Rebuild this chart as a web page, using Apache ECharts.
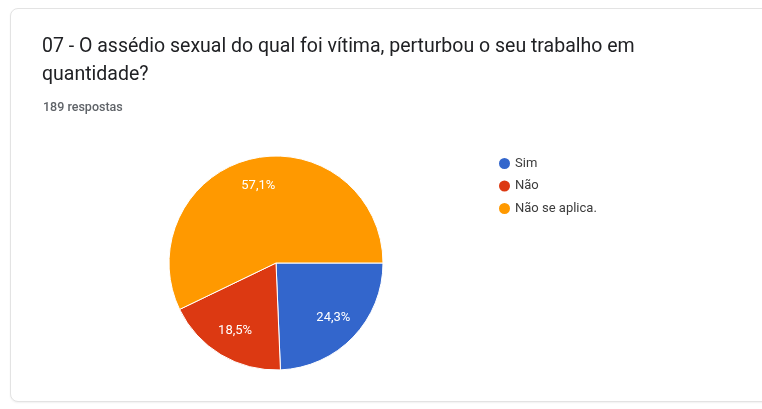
<!DOCTYPE html>
<html>
<head>
<meta charset="utf-8">
<script src="https://cdn.jsdelivr.net/npm/echarts@6/dist/echarts.min.js"></script>
<style>
  html, body { margin: 0; padding: 0; background: #ffffff; }
  #card {
    position: absolute; left: 10px; top: 8px; width: 770px; height: 392px;
    border: 1px solid #e3e3e3; border-radius: 8px; background: #ffffff;
    box-shadow: 0 1px 2px rgba(0,0,0,0.06);
  }
  #chart { position: absolute; left: 0; top: 0; width: 762px; height: 409px; }
</style>
</head>
<body>
<div id="card"></div>
<div id="chart"></div>
<script>
// Survey question and answer counts
const questionTitle = '07 - O assédio sexual do qual foi vítima, perturbou o seu trabalho em\nquantidade?';
const responsesNote = '189 respostas';
const categories = ['Sim', 'Não', 'Não se aplica.'];
const counts = [46, 35, 108];
const sliceColors = ['#3366cc', '#dc3912', '#ff9900'];

const total = counts.reduce((a, b) => a + b, 0);
const pieData = categories.map((name, i) => ({ name: name, value: counts[i] }));
const fmtPct = v => (v / total * 100).toFixed(1).replace('.', ',') + '%';

const chart = echarts.init(document.getElementById('chart'), null, { renderer: 'canvas' });
chart.setOption({
  animation: false,
  color: sliceColors,
  title: [
    {
      text: questionTitle,
      left: 37, top: 28,
      textStyle: { fontFamily: 'Roboto', fontSize: 19.5, fontWeight: 'normal', color: '#202124', lineHeight: 28 }
    },
    {
      text: responsesNote,
      left: 38, top: 96,
      textStyle: { fontFamily: 'Roboto', fontSize: 12.5, fontWeight: 500, color: '#5f6368' }
    }
  ],
  legend: {
    data: categories,
    orient: 'vertical',
    left: 492, top: 151,
    icon: 'circle',
    itemWidth: 13, itemHeight: 13,
    itemGap: 7.5,
    textStyle: { fontFamily: 'Roboto', fontSize: 13, color: '#3c3c3c', padding: [0, 0, 0, -1] }
  },
  series: [
    {
      type: 'pie',
      center: [276, 263],
      radius: 107,
      startAngle: 0,
      clockwise: true,
      data: pieData,
      silent: true,
      itemStyle: { borderColor: '#ffffff', borderWidth: 1 },
      label: { show: false },
      labelLine: { show: false }
    },
    {
      // label-only ring so the percentages sit near 3/4 of the radius
      type: 'pie',
      center: [276, 263],
      radius: [46, 107],
      startAngle: 0,
      clockwise: true,
      data: pieData,
      silent: true,
      itemStyle: { color: 'rgba(0,0,0,0)' },
      label: {
        show: true,
        position: 'inside',
        formatter: p => fmtPct(p.value),
        fontFamily: 'Roboto', fontSize: 13, color: '#ffffff'
      },
      labelLine: { show: false }
    }
  ]
});
</script>
</body>
</html>
